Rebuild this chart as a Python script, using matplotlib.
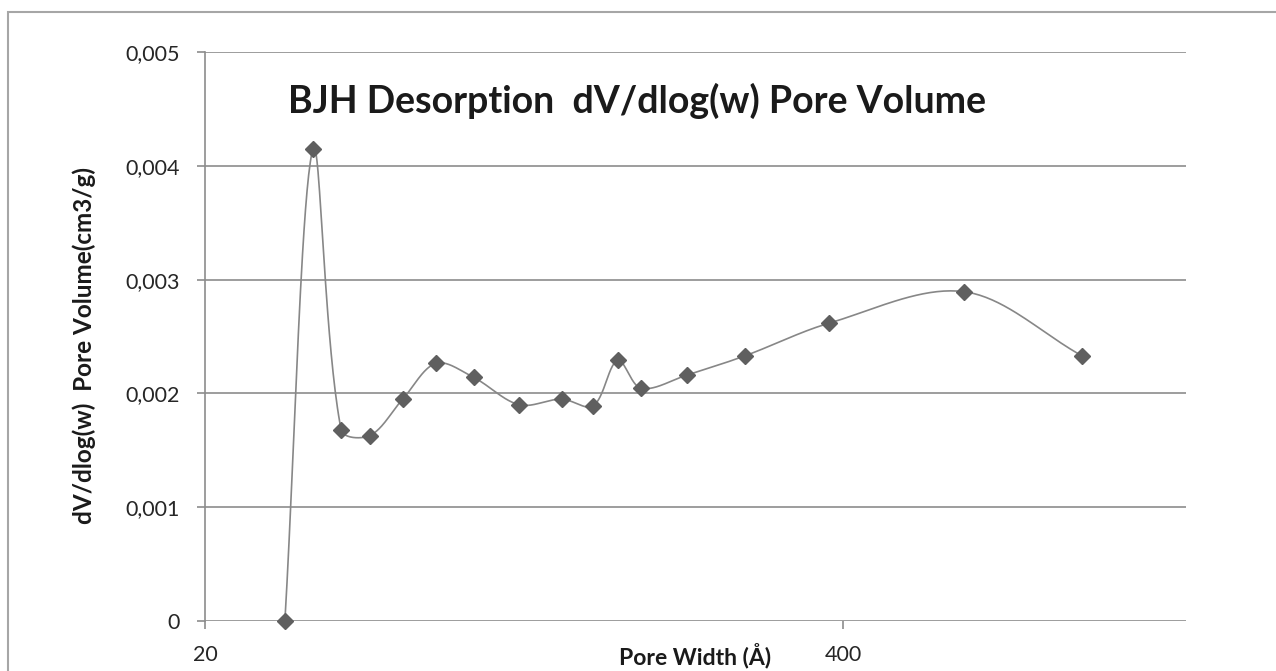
import numpy as np
import matplotlib.pyplot as plt
from matplotlib.patches import Rectangle
from matplotlib.ticker import FixedLocator, FuncFormatter, NullLocator

# BJH desorption data
pore_width = [29.1, 33.2, 37.9, 43.4, 50.6, 59.2, 70.6, 87.5, 106.7, 123.7,
              138.8, 154.9, 191.9, 252.2, 373.8, 705.0, 1228.0]
pore_volume = [0.0, 0.00415, 0.00168, 0.00163, 0.00195, 0.002265, 0.00214, 0.0019, 0.00195, 0.00189,
               0.00229, 0.002045, 0.00216, 0.00233, 0.002616, 0.002894, 0.00233]
y_ticks = [0, 0.001, 0.002, 0.003, 0.004, 0.005]
x_ticks = [20, 400]

plt.rcParams['font.family'] = ['Lato', 'DejaVu Sans']


def smooth(ax, xs, ys, n=40):
    # Excel-like smoothed line, built in pixel space; handle lengths follow segment lengths
    P = ax.transData.transform(np.column_stack([xs, ys]))
    out = []
    m = len(P)
    for i in range(m - 1):
        p0 = P[i - 1] if i > 0 else P[i]
        p1, p2 = P[i], P[i + 1]
        p3 = P[i + 2] if i + 2 < m else P[i + 1]
        l01 = np.hypot(*(p1 - p0))
        l12 = np.hypot(*(p2 - p1))
        l23 = np.hypot(*(p3 - p2))
        c1 = p1 + (p2 - p0) * (l12 / (l01 + l12)) / 3 if l01 > 0 else p1 + (p2 - p1) / 3
        c2 = p2 - (p3 - p1) * (l12 / (l12 + l23)) / 3 if l23 > 0 else p2 - (p2 - p1) / 3
        t = np.linspace(0, 1, n)[:, None]
        b = (1 - t) ** 3 * p1 + 3 * (1 - t) ** 2 * t * c1 + 3 * (1 - t) * t ** 2 * c2 + t ** 3 * p2
        out.append(b)
    pts = ax.transData.inverted().transform(np.vstack(out))
    return pts[:, 0], pts[:, 1]


fig = plt.figure(figsize=(12.76, 6.71), dpi=100)
ax = fig.add_axes([205 / 1276, 50 / 671, 981 / 1276, 569 / 671])

# outer chart border
fig.patches.append(Rectangle((8 / 1276, -0.05), 1.2, 1 - 12 / 671 + 0.05, transform=fig.transFigure,
                             fill=False, edgecolor='#a6a6a6', linewidth=1.5))

ax.set_xscale('log')
ax.set_xlim(20, 2000)
ax.set_ylim(0, 0.005)

sx, sy = smooth(ax, pore_width, pore_volume)
ax.plot(sx, sy, color='#878787', linewidth=1.2, zorder=3, clip_on=False)
ax.plot(pore_width, pore_volume, linestyle='none', marker='D', markersize=8,
        color='#5f5f5f', zorder=4, clip_on=False)

ax.xaxis.set_major_locator(FixedLocator(x_ticks))
ax.xaxis.set_minor_locator(NullLocator())
ax.xaxis.set_major_formatter(FuncFormatter(lambda v, p: f"{v:g}"))
ax.yaxis.set_major_locator(FixedLocator(y_ticks))
ax.yaxis.set_major_formatter(FuncFormatter(lambda v, p: "0" if v == 0 else f"{v:.3f}".replace('.', ',')))

ax.grid(axis='y', color='#8c8c8c', linewidth=1.2)
ax.set_axisbelow(True)
for s in ['top', 'right', 'bottom']:
    ax.spines[s].set_visible(False)
ax.spines['left'].set_color('#8c8c8c')
ax.spines['left'].set_linewidth(1.2)
ax.tick_params(axis='y', length=6, color='#8c8c8c', width=1.2, labelsize=15.5, labelcolor='#262626', pad=12)
ax.tick_params(axis='x', length=6, color='#8c8c8c', width=1.2, labelsize=15.5, labelcolor='#262626', pad=11)

fig.text(637 / 1276, 1 - 113 / 671, 'BJH Desorption  dV/dlog(w) Pore Volume',
         fontsize=27, fontweight='bold', ha='center', va='baseline', color='#1a1a1a')
fig.text(84 / 1276, 1 - 346 / 671, 'dV/dlog(w)  Pore Volume(cm3/g)', rotation=90,
         fontsize=17.5, fontweight='bold', ha='center', va='center', color='#1a1a1a')
fig.text(695 / 1276, 1 - 664 / 671, 'Pore Width (Å)', fontsize=16.5, fontweight='bold',
         ha='center', va='baseline', color='#1a1a1a')

fig.savefig('out.png', dpi=100)
